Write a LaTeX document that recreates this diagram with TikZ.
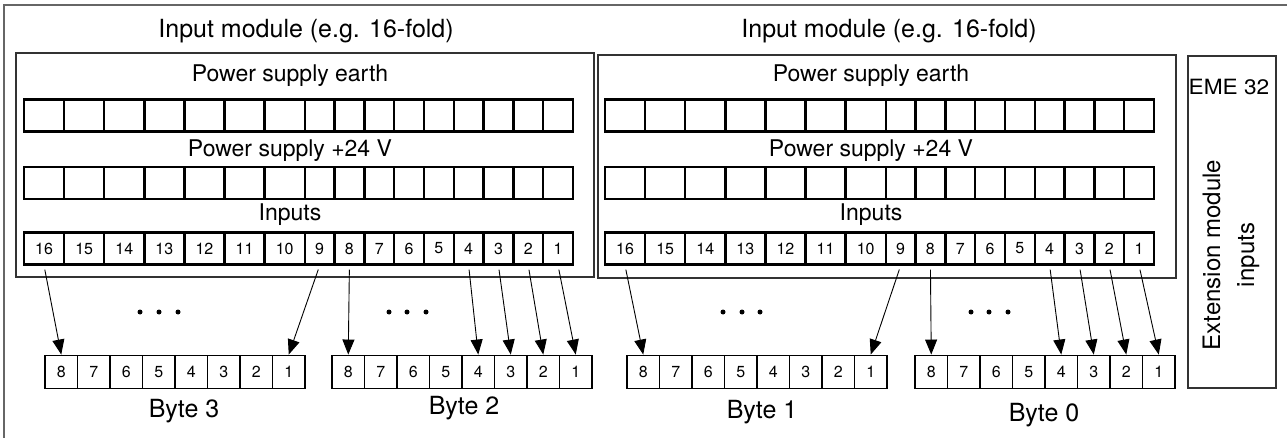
\documentclass[tikz,border=0pt]{standalone}
\usepackage{fontspec}
\setmainfont{TeX Gyre Heros}
\usetikzlibrary{arrows.meta}
\begin{document}
\begin{tikzpicture}[x=1pt,y=-1pt,
  frame/.style={draw=black!60, line width=1.5pt},
  modbox/.style={draw=black!80, line width=1.3pt, inner sep=0pt},
  cell/.style={draw, line width=2.4pt, inner sep=0pt, minimum height=32pt, font=\fontsize{16}{18}\selectfont},
  bcell/.style={draw, line width=1.9pt, inner sep=0pt, minimum width=32.5pt, minimum height=33pt, font=\fontsize{16}{18}\selectfont},
  lbl/.style={font=\fontsize{23}{27}\selectfont, inner sep=0pt, anchor=base},
  ttl/.style={font=\fontsize{25}{30}\selectfont, inner sep=0pt, anchor=base},
  arr/.style={-{Triangle[length=15pt,width=12pt]}, line width=0.9pt, shorten <=4pt},
  dotn/.style={circle, fill, inner sep=0pt, minimum size=5pt}
]
\useasboundingbox (0,0) rectangle (1287,438);
% outer frame (clipped at right and bottom)
\coordinate (fbl) at (4,440);
\coordinate (ftl) at (4,5);
\coordinate (ftr) at (1290,5);
\draw[frame] (fbl) -- (ftl) -- (ftr);

% module boxes
\node[modbox, minimum width=578pt, minimum height=224pt] (mod1) at (305,165) {};
\node[modbox, minimum width=578pt, minimum height=223pt] (mod2) at (887,166.5) {};
% titles
\node[ttl] (t1) at (306,38) {Input module (e.g. 16-fold)};
\node[ttl] (t2) at (889,38) {Input module (e.g. 16-fold)};
% labels
\foreach \m/\lx in {1/290, 2/871}{
  \node[lbl] (pe\m) at (\lx,82) {Power supply earth};
  \node[lbl] (pp\m) at (\lx,157) {Power supply +24 V};
  \node[lbl] (in\m) at (\lx,221) {Inputs};
}
% terminal rows
\foreach \m/\xo in {1/24, 2/605}{
  \foreach \k in {0,...,15}{
    \pgfmathsetmacro\cx{\k<7 ? \xo+(\k+0.5)*40.1 : \xo+280.7+(\k-6.5)*29.81}
    \pgfmathsetmacro\cw{\k<7 ? 40.1 : 29.81}
    \pgfmathtruncatemacro\n{16-\k}
    \node[cell, minimum width=\cw pt] (m\m e\n) at (\cx,115.5) {};
    \node[cell, minimum width=\cw pt] (m\m p\n) at (\cx,183) {};
    \node[cell, minimum width=\cw pt] (m\m i\n) at (\cx,248.5) {\n};
  }
}
% byte boxes
\foreach \b/\bx/\lx/\ly in {3/45/184/417, 2/332/464/414, 1/627/762/418, 0/915/1044/421}{
  \foreach \j in {0,...,7}{
    \pgfmathsetmacro\cx{\bx+(\j+0.5)*32.5}
    \pgfmathtruncatemacro\n{8-\j}
    \node[bcell] (b\b c\n) at (\cx,372) {\n};
  }
  \node[ttl] (bl\b) at (\lx,\ly) {Byte \b};
}
% dots
\foreach \d/\x in {a/140, b/159, c/178, d/389, e/407, f/426, g/723, h/742, i/760, j/971, k/989, l/1008}{
  \node[dotn] (dot\d) at (\x,312) {};
}
% arrows
\foreach \m/\ba/\bb in {1/3/2, 2/1/0}{
  \draw[arr] (m\m i16.south) -- (b\ba c8.north);
  \draw[arr] (m\m i9.south) -- (b\ba c1.north);
  \draw[arr] (m\m i8.south) -- (b\bb c8.north);
  \draw[arr] (m\m i4.south) -- (b\bb c4.north);
  \draw[arr] (m\m i3.south) -- (b\bb c3.north);
  \draw[arr] (m\m i2.south) -- (b\bb c2.north);
  \draw[arr] (m\m i1.south) -- (b\bb c1.north);
}
% extension module box
\node[modbox, minimum width=88pt, minimum height=332pt] (eme) at (1232,222) {};
\node[inner sep=0pt, anchor=base, font=\fontsize{21}{25}\selectfont] (emet) at (1229,95) {\scalebox{1.08}[1]{EME 32}};
\node[inner sep=0pt, rotate=90, align=center, font=\fontsize{24}{34}\selectfont] (emex) at (1231,255) {Extension module\\inputs};
\end{tikzpicture}
\end{document}
